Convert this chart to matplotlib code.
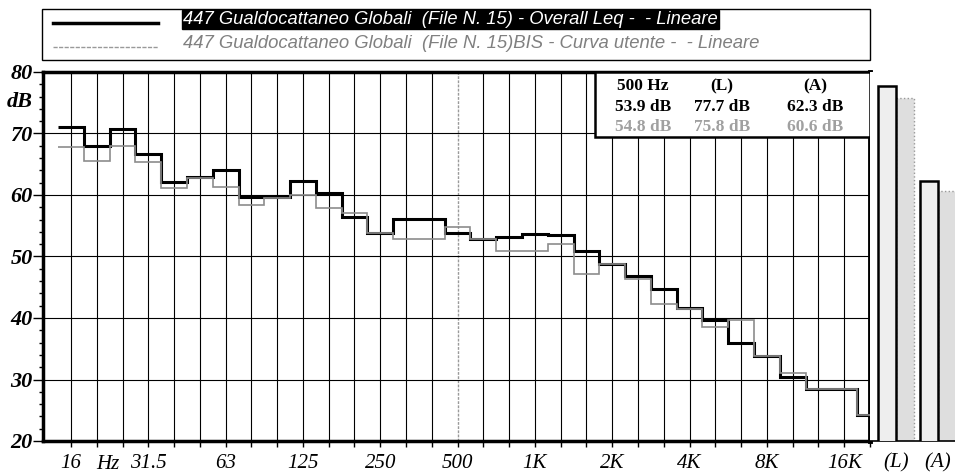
import numpy as np
import matplotlib.pyplot as plt
import matplotlib.transforms as mtransforms
from matplotlib.patches import Rectangle
from matplotlib.lines import Line2D

# third octave bands, 16 Hz .. 20 kHz
bands = ['16', '20', '25', '31.5', '40', '50', '63', '80', '100', '125', '160',
         '200', '250', '315', '400', '500', '630', '800', '1K', '1.25K', '1.6K',
         '2K', '2.5K', '3.15K', '4K', '5K', '6.3K', '8K', '10K', '12.5K', '16K', '20K']
labelled = ['16', '31.5', '63', '125', '250', '500', '1K', '2K', '4K', '8K', '16K']

# Overall Leq (black) and Curva utente (gray), dB
black_db = [71.1, 68.0, 70.7, 66.7, 62.1, 63.0, 64.1, 59.6, 59.7, 62.2, 60.4,
            56.5, 53.9, 56.1, 56.1, 53.9, 52.9, 53.1, 53.6, 53.5, 50.9,
            48.8, 46.8, 44.7, 41.6, 39.6, 35.9, 33.8, 30.4, 28.5, 28.5, 24.3]
gray_db = [67.8, 65.5, 67.9, 65.4, 61.2, 62.8, 61.3, 58.4, 59.5, 60.0, 57.9,
           57.0, 53.9, 52.8, 52.8, 54.8, 52.9, 50.9, 50.9, 52.0, 47.2,
           48.7, 46.4, 42.3, 41.4, 38.5, 39.6, 33.8, 31.1, 28.5, 28.5, 24.3]

overall_names = ['(L)', '(A)']
overall_black = [77.7, 62.3]
overall_gray = [75.8, 60.6]

cursor_band = '500'
info_head = ['500 Hz', '(L)', '(A)']
info_black = ['53.9 dB', '77.7 dB', '62.3 dB']
info_gray = ['54.8 dB', '75.8 dB', '60.6 dB']

legend_labels = ['447 Gualdocattaneo Globali  (File N. 15) - Overall Leq -  - Lineare',
                 '447 Gualdocattaneo Globali  (File N. 15)BIS - Curva utente -  - Lineare']

serif = 'Liberation Serif'
sans = 'Liberation Sans'
gray = '#8c8c8c'

W, H = 955, 474
fig = plt.figure(figsize=(W / 100, H / 100), dpi=100)

# main spectrum axes
ax = fig.add_axes([43 / W, 33 / H, 827 / W, 369 / H])
x = np.arange(1, len(bands) + 1)
edges = np.arange(0.5, len(bands) + 1)
ax.set_xlim(-0.085, 32.0)
ax.set_ylim(20, 80)

for i, b in zip(x[:-1], bands[:-1]):
    if b == cursor_band:
        ax.axvline(i, color='#9a9a9a', lw=1.0, ls=(0, (2, 1)), zorder=1)
    else:
        ax.axvline(i, color='black', lw=0.8, zorder=1)
for yv in range(30, 80, 10):
    ax.axhline(yv, color='black', lw=0.8, zorder=1)

ax.stairs(black_db, edges, baseline=None, color='black', lw=2.2, zorder=3)
ax.stairs(gray_db, edges, baseline=None, color=gray, lw=1.2, zorder=4)

ax.set_xticks(x)
ax.set_xticklabels([b if b in labelled else '' for b in bands],
                   fontfamily=serif, fontstyle='italic', fontsize=15)
ax.tick_params(axis='x', length=4, width=1, pad=5)
ax.text(2.45, -0.065, 'Hz', transform=mtransforms.blended_transform_factory(ax.transData, ax.transAxes),
        ha='center', va='center', fontfamily=serif, fontstyle='italic', fontsize=15)

ax.set_yticks(range(20, 81, 10))
ax.set_yticklabels([str(v) for v in range(20, 81, 10)], fontfamily=serif,
                   fontstyle='italic', fontweight='bold', fontsize=16)
ax.set_yticks(range(20, 81, 2), minor=True)
ax.tick_params(axis='y', which='major', length=7, width=1, pad=0.5)
ax.tick_params(axis='y', which='minor', length=3, width=1)
ax.text(-0.013, 75.2, 'dB', transform=mtransforms.blended_transform_factory(ax.transAxes, ax.transData),
        ha='right', va='center', fontfamily=serif, fontstyle='italic', fontweight='bold', fontsize=16)

for side in ['left', 'bottom', 'top']:
    ax.spines[side].set_linewidth(2.5)
ax.spines['right'].set_linewidth(3.5)

# value box at top right
ax.add_patch(Rectangle((0.667, 0.823), 0.333, 0.177, transform=ax.transAxes,
                       facecolor='white', edgecolor='black', lw=1.8, zorder=6, clip_on=False))
for cx, h, b, g in zip([0.7255, 0.821, 0.9335], info_head, info_black, info_gray):
    ax.text(cx, 0.962, h, transform=ax.transAxes, ha='center', va='center',
            fontfamily=serif, fontweight='bold', fontsize=12.5, zorder=7)
    ax.text(cx, 0.906, b, transform=ax.transAxes, ha='center', va='center',
            fontfamily=serif, fontweight='bold', fontsize=12.5, zorder=7)
    ax.text(cx, 0.852, g, transform=ax.transAxes, ha='center', va='center',
            fontfamily=serif, fontweight='bold', fontsize=12.5, color='#a0a0a0', zorder=7)

# overall bars (L) and (A)
ax2 = fig.add_axes([870 / W, 33 / H, 85 / W, 369 / H])
ax2.set_xlim(-0.62, 1.405)
ax2.set_ylim(20, 80)
pos = np.arange(len(overall_names))
w = 0.44
ax2.bar(pos - w / 2, overall_black, width=w, facecolor='#eeeeee', edgecolor='black', lw=1.8, zorder=3)
ax2.bar(pos + w / 2, overall_gray, width=w, facecolor='#dedede', edgecolor='#999999', lw=1.0,
        ls=':', zorder=2)
for side in ['left', 'right', 'top']:
    ax2.spines[side].set_visible(False)
ax2.spines['bottom'].set_linewidth(1.2)
ax2.set_yticks([])
ax2.set_xticks(pos)
ax2.set_xticklabels(overall_names, fontfamily=serif, fontstyle='italic', fontsize=15)
ax2.tick_params(axis='x', length=0, pad=9)

# legend box
fig.patches.append(Rectangle((42 / W, 1 - 60 / H), 828 / W, 51 / H, transform=fig.transFigure,
                             fill=False, edgecolor='black', lw=1.0))
fig.lines.append(Line2D([53 / W, 158 / W], [1 - 22.7 / H] * 2, transform=fig.transFigure,
                        color='black', lw=2.5))
fig.lines.append(Line2D([53 / W, 158 / W], [1 - 46.7 / H] * 2, transform=fig.transFigure,
                        color='#999999', lw=1.0, ls=(0, (3, 1))))
fig.text(183 / W, 1 - 19.5 / H, legend_labels[0], color='white', fontfamily=sans,
         fontstyle='italic', fontsize=13.2, va='center',
         bbox=dict(boxstyle='square,pad=0.08', facecolor='black', edgecolor='black'))
fig.text(183 / W, 1 - 43 / H, legend_labels[1], color='#808080', fontfamily=sans,
         fontstyle='italic', fontsize=13.3, va='center')

fig.savefig('out.png', dpi=100)
